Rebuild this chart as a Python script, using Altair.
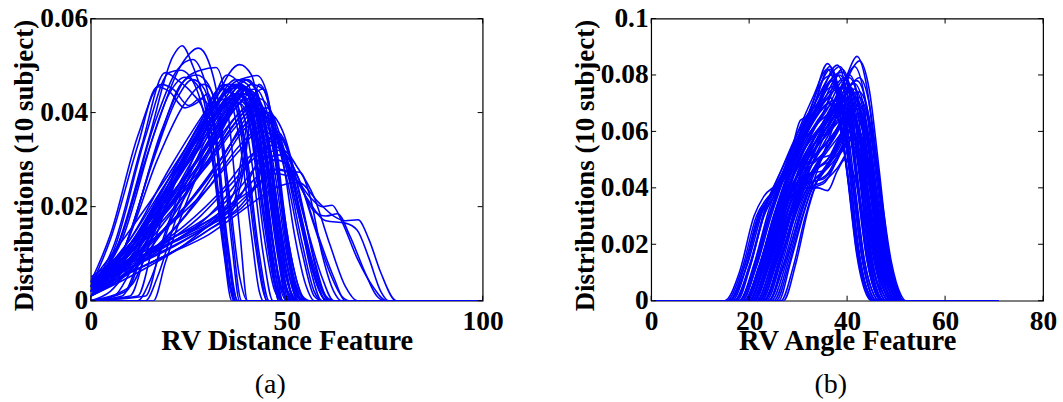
import altair as alt
import pandas as pd

# ---------------- Panel (a): RV Distance Feature -----------------
DIST_X_TICKS = [0, 50, 100]
DIST_Y_TICKS = [0, 0.02, 0.04, 0.06]

DIST_EARLY = [
    [(0,.003),(5,.013),(12,.033),(17,.0455),(20,.0445),(24,.041),(27,.042),(30,.044),(32,.035),(35,.01),(37,0),(100,0)],
    [(0,.004),(5,.014),(12,.035),(18,.046),(21,.045),(25,.0415),(28,.043),(31,.04),(34,.015),(36.5,0),(100,0)],
    [(0,.002),(6,.012),(13,.033),(19,.0485),(22,.047),(26,.044),(29,.04),(32,.025),(35,.005),(37,0),(100,0)],
    [(0,.002),(6,.011),(14,.035),(20,.0485),(23,.049),(27,.045),(31,.03),(34,.01),(36,0),(100,0)],
    [(0,.001),(7,.012),(15,.035),(21,.052),(23.3,.0542),(26,.05),(29,.042),(32,.025),(35,.006),(37,0),(100,0)],
    [(0,.002),(8,.014),(16,.037),(22,.049),(26,.0513),(29,.047),(32,.035),(35,.012),(37.5,0),(100,0)],
    [(0,.003),(8,.013),(16,.035),(23,.05),(27.5,.0537),(30,.051),(33,.04),(36,.015),(38.5,0),(100,0)],
    [(0,.001),(8,.01),(17,.033),(23,.046),(27,.048),(30,.046),(33,.036),(36,.012),(38,0),(100,0)],
    [(0,.002),(9,.012),(18,.036),(24,.047),(28,.049),(32,.0496),(35,.04),(38,.015),(40,0),(100,0)],
    [(0,.003),(7,.012),(14,.03),(20,.044),(24,.0475),(27,.046),(30,.04),(33,.02),(35.5,.003),(37,0),(100,0)],
    [(0,.001),(8,.01),(16,.03),(22,.043),(26,.047),(29,.045),(32,.033),(35,.01),(37.5,0),(100,0)],
    [(0,.002),(9,.012),(17,.03),(24,.042),(29,.046),(32,.042),(35,.025),(38,.005),(40,0),(100,0)],
]

DIST_SHORT = [
    [(0,.002),(10,.012),(20,.026),(28,.038),(33,.045),(36,.044),(39,.032),(42,.012),(44,.002),(45,0),(100,0)],
    [(0,.003),(10,.013),(20,.028),(29,.04),(34,.046),(37,.043),(40,.028),(43,.008),(45,0),(100,0)],
    [(0,.001),(8,.008),(18,.022),(27,.035),(32,.042),(35,.043),(38,.034),(41,.014),(43,.002),(44,0),(100,0)],
    [(0,0),(10,.003),(16,.014),(24,.03),(30,.04),(34,.045),(37,.043),(40,.03),(43,.01),(45.5,0),(100,0)],
    [(0,.002),(12,.012),(22,.026),(30,.037),(35,.043),(38,.042),(41,.03),(44,.01),(46.5,0),(100,0)],
]

DIST_MID = [
    [(0,.004),(10,.015),(20,.027),(30,.04),(38,.0502),(41,.048),(44,.035),(47,.015),(50,.002),(52,0),(100,0)],
    [(0,.003),(10,.012),(20,.025),(30,.038),(36,.046),(40,.0475),(42.4,.0479),(45,.044),(48,.025),(51,.007),(54,0),(100,0)],
    [(0,.002),(10,.01),(22,.028),(30,.04),(34.8,.048),(38,.046),(41,.035),(44,.015),(47,.002),(49,0),(100,0)],
    [(0,.001),(8,.006),(18,.02),(28,.036),(35,.045),(38,.046),(42,.04),(45,.025),(48,.008),(50,0),(100,0)],
    [(0,0),(5,.002),(15,.015),(25,.031),(33,.043),(37,.046),(40,.044),(43,.03),(46,.01),(48,0),(100,0)],
    [(0,.002),(10,.011),(20,.023),(30,.036),(37,.045),(40,.047),(43,.043),(46,.03),(49,.012),(52,.002),(54,0),(100,0)],
    [(0,.003),(12,.014),(22,.026),(32,.04),(38,.046),(41,.044),(44,.033),(47,.015),(50,.002),(52,0),(100,0)],
    [(0,0),(8,.001),(12,.008),(20,.025),(28,.036),(34,.044),(38,.0455),(41,.042),(44,.025),(47,.006),(49,0),(100,0)],
    [(0,0),(10,.001),(14,.01),(22,.028),(30,.039),(36,.045),(39,.0455),(42,.04),(45,.022),(48,.004),(50,0),(100,0)],
    [(0,0),(12,.001),(16,.012),(24,.03),(32,.042),(37,.047),(40,.046),(43,.036),(46,.015),(49,.002),(51,0),(100,0)],
    [(0,0),(14,.001),(18,.012),(25,.028),(32,.04),(37,.044),(40,.042),(43,.03),(46,.01),(48,0),(100,0)],
    [(0,.001),(10,.008),(20,.02),(30,.034),(36,.042),(40,.045),(44,.04),(47,.024),(50,.008),(53,0),(100,0)],
    [(0,.002),(10,.009),(20,.02),(30,.032),(36,.04),(41,.044),(44,.041),(47,.03),(50,.012),(53,.002),(55,0),(100,0)],
    [(0,.004),(10,.012),(20,.022),(30,.033),(37,.042),(41,.046),(44,.045),(47,.035),(50,.015),(53,.003),(55,0),(100,0)],
    [(0,.003),(12,.012),(25,.025),(33,.036),(38,.043),(42,.045),(45,.04),(48,.025),(51,.008),(54,0),(100,0)],
    [(0,.001),(12,.008),(24,.022),(32,.034),(38,.042),(41,.043),(44,.038),(47,.022),(50,.006),(52,0),(100,0)],
    [(0,.005),(8,.01),(18,.02),(28,.031),(35,.04),(39,.044),(42,.042),(45,.03),(48,.012),(51,.002),(53,0),(100,0)],
    [(0,0),(6,.001),(10,.006),(18,.018),(26,.03),(33,.04),(37,.043),(40,.041),(43,.03),(46,.012),(49,0),(100,0)],
    [(0,.002),(15,.015),(25,.026),(33,.035),(38,.04),(42,.042),(45,.038),(48,.026),(51,.01),(54,.001),(56,0),(100,0)],
    [(0,.003),(15,.016),(27,.03),(34,.039),(39,.045),(42,.044),(45,.035),(48,.018),(51,.004),(53,0),(100,0)],
    [(0,0),(12,0),(15,.004),(20,.016),(27,.03),(33,.04),(38,.044),(41,.041),(44,.028),(47,.01),(49,0),(100,0)],
    [(0,0),(14,0),(17,.005),(22,.018),(28,.03),(34,.04),(39,.045),(42,.043),(45,.03),(48,.01),(50,0),(100,0)],
]

DIST_EXTRA = [
    [(0,.003),(10,.012),(20,.024),(30,.035),(36,.043),(39,.0455),(42,.042),(45,.028),(48,.01),(51,.001),(53,0),(100,0)],
    [(0,.001),(10,.008),(20,.018),(30,.03),(37,.039),(41,.042),(44,.039),(47,.027),(50,.01),(53,.001),(55,0),(100,0)],
    [(0,.002),(10,.01),(20,.021),(30,.033),(36,.04),(40,.043),(43,.04),(46,.025),(49,.007),(51,0),(100,0)],
    [(0,0),(9,.002),(14,.012),(22,.027),(30,.038),(35,.043),(38,.044),(41,.038),(44,.02),(47,.004),(49,0),(100,0)],
    [(0,.004),(10,.012),(20,.02),(30,.029),(37,.037),(42,.041),(46,.039),(50,.028),(54,.012),(57,.002),(59,0),(100,0)],
    [(0,.002),(12,.01),(24,.02),(33,.03),(40,.038),(45,.04),(49,.036),(53,.024),(57,.009),(60,.001),(62,0),(100,0)],
    [(0,.003),(10,.009),(20,.016),(30,.024),(38,.032),(43,.036),(47,.035),(51,.028),(55,.016),(59,.005),(62,0),(100,0)],
    [(0,.001),(10,.006),(20,.014),(30,.024),(38,.033),(44,.037),(48,.034),(52,.024),(56,.01),(59,.002),(61,0),(100,0)],
    [(0,.002),(10,.011),(20,.024),(30,.036),(36,.044),(39,.047),(42,.045),(45,.034),(48,.014),(51,.002),(53,0),(100,0)],
    [(0,.003),(10,.013),(20,.026),(30,.037),(35,.042),(38,.042),(41,.036),(44,.02),(47,.004),(49,0),(100,0)],
    [(0,.001),(9,.008),(18,.02),(27,.033),(33,.041),(37,.044),(40,.042),(43,.032),(46,.014),(49,.002),(51,0),(100,0)],
    [(0,.004),(11,.012),(22,.022),(32,.032),(39,.04),(43,.043),(46,.04),(49,.03),(52,.014),(55,.003),(57,0),(100,0)],
    [(0,0),(16,0),(19,.008),(24,.02),(30,.032),(35,.04),(39,.044),(42,.042),(45,.03),(48,.012),(50,.001),(52,0),(100,0)],
    [(0,.002),(8,.008),(16,.02),(24,.032),(31,.042),(35,.046),(38,.045),(41,.036),(44,.018),(47,.003),(49,0),(100,0)],
    [(0,.003),(12,.009),(24,.016),(34,.024),(41,.031),(46,.033),(50,.031),(54,.024),(58,.014),(62,.005),(65,0),(100,0)],
]

DIST_WIDE = [
    [(0,.002),(10,.008),(20,.016),(30,.026),(38,.036),(43,.04),(47,.036),(51,.025),(55,.012),(58,.003),(60,0),(100,0)],
    [(0,.001),(12,.008),(24,.018),(34,.03),(40,.037),(45,.038),(49,.033),(53,.02),(57,.006),(60,0),(100,0)],
    [(0,.003),(12,.01),(24,.02),(34,.031),(41,.04),(45,.041),(48,.036),(52,.022),(56,.008),(59,.001),(61,0),(100,0)],
    [(0,.004),(15,.014),(28,.027),(37,.038),(42,.042),(46,.038),(50,.026),(54,.01),(57,.001),(59,0),(100,0)],
    [(0,.003),(10,.008),(20,.013),(30,.017),(36,.02),(39,.03),(42,.044),(44,.045),(46,.04),(49,.02),(52,.004),(54,0),(100,0)],
    [(0,.002),(10,.006),(20,.01),(30,.015),(36,.019),(39,.028),(41,.04),(43,.046),(45,.043),(48,.025),(51,.006),(53,0),(100,0)],
    [(0,.004),(12,.009),(24,.014),(32,.018),(37,.024),(40,.038),(42,.043),(44,.04),(47,.022),(50,.005),(52,0),(100,0)],
]

DIST_TAIL = [
    [(0,.004),(10,.008),(20,.012),(30,.016),(40,.021),(44,.03),(47,.0362),(50,.033),(53,.02),(56,.007),(59,0),(100,0)],
    [(0,.003),(10,.007),(20,.011),(30,.016),(38,.022),(43,.03),(46.3,.034),(49,.032),(52,.024),(55,.012),(58,.003),(60,0),(100,0)],
    [(0,.002),(10,.006),(20,.01),(30,.015),(38,.02),(43,.025),(46.3,.028),(50,.0275),(53.4,.0273),(56,.022),(59,.01),(62,.002),(64,0),(100,0)],
    [(0,.004),(10,.008),(20,.012),(30,.017),(40,.023),(47,.027),(52,.026),(56,.022),(59,.02),(61.6,.0203),(64,.017),(68,.009),(72,.003),(75.5,0),(100,0)],
    [(0,.002),(10,.006),(20,.01),(30,.014),(40,.02),(47,.024),(53,.0252),(58,.021),(62,.018),(65,.017),(68.2,.0172),(71,.013),(74,.006),(78,0),(100,0)],
    [(0,.003),(12,.008),(24,.013),(34,.018),(42,.024),(48,.028),(53,.025),(57,.019),(60,.018),(63,.0185),(66,.014),(70,.006),(73,.001),(75,0),(100,0)],
    [(0,.001),(12,.006),(24,.012),(34,.019),(42,.026),(47,.03),(50,.029),(55,.022),(60,.017),(65,.0165),(68,.015),(71,.009),(74,.002),(76,0),(100,0)],
    [(0,.004),(10,.009),(20,.013),(30,.018),(38,.024),(44,.03),(49,.031),(53,.026),(57,.016),(61,.006),(64,.001),(66,0),(100,0)],
    [(0,.002),(10,.007),(20,.012),(30,.018),(38,.026),(44,.034),(48,.035),(51,.03),(55,.016),(58,.005),(61,0),(100,0)],
    [(0,.003),(15,.01),(28,.018),(36,.025),(43,.031),(49,.032),(53,.028),(57,.022),(61,.012),(65,.003),(68,0),(100,0)],
]

# ---------------- Panel (b): RV Angle Feature -----------------
ANGLE_X_TICKS = [0, 20, 40, 60, 80]
ANGLE_Y_TICKS = [0, 0.02, 0.04, 0.06, 0.08, 0.1]

ANGLE_EARLY = [
    [(0.7,0),(15,0),(18,.01),(21,.03),(23,.037),(26,.042),(29,.052),(32,.063),(35,.07),(36.5,.072),(38.5,.063),(40.5,.04),(42.5,.014),(44.5,.002),(45.5,0),(71,0)],
    [(0.7,0),(16,0),(19,.01),(22,.029),(24,.036),(27,.044),(30,.057),(33,.07),(36,.084),(38,.074),(40,.046),(42,.017),(44,.003),(45,0),(71,0)],
    [(0.7,0),(16.5,0),(19.5,.012),(23,.033),(26,.042),(29,.05),(31,.063),(34,.07),(37,.078),(39,.069),(41,.043),(43,.016),(45,.002),(46,0),(71,0)],
    [(0.7,0),(17,0),(20,.012),(23,.03),(26,.04),(28,.048),(30.5,.064),(33,.066),(36,.072),(38,.075),(40,.066),(42,.041),(44,.015),(46,.002),(47,0),(71,0)],
    [(0.7,0),(18,0),(21,.013),(24,.032),(27,.046),(30,.06),(33,.072),(36,.082),(38,.072),(40,.045),(42,.016),(44,.002),(45,0),(71,0)],
    [(0.7,0),(18,0),(21,.012),(24,.03),(27,.045),(30,.058),(33,.068),(36.5,.083),(38.5,.073),(40.5,.046),(42.5,.017),(44.5,.002),(45.5,0),(71,0)],
    [(0.7,0),(17,0),(20,.011),(23,.03),(26,.042),(29,.054),(32,.066),(35,.078),(37,.08),(39,.07),(41,.044),(43,.016),(45,.002),(46,0),(71,0)],
    [(0.7,0),(17.5,0),(20.5,.014),(23.5,.034),(26.5,.046),(29.5,.058),(32.5,.067),(35.5,.076),(37,.078),(39,.069),(41,.043),(43,.016),(45,.002),(46,0),(71,0)],
    [(0.7,0),(18.5,0),(21.5,.012),(24.5,.03),(27.5,.045),(30.5,.056),(33.5,.065),(36.5,.072),(38.5,.063),(40.5,.04),(42.5,.014),(44.5,.002),(45.5,0),(71,0)],
    [(0.7,0),(15.5,0),(18.5,.011),(21.5,.03),(23.5,.036),(26,.04),(29,.049),(32,.06),(35,.068),(36.5,.07),(38.5,.062),(40.5,.039),(42.5,.014),(44.5,.002),(45.5,0),(71,0)],
    [(0.7,0),(16,0),(19,.012),(22,.031),(24,.036),(27,.043),(30,.055),(33,.065),(36,.075),(37.5,.076),(39.5,.067),(41.5,.042),(43.5,.015),(45.5,.002),(46.5,0),(71,0)],
    [(0.7,0),(16,0),(19,.012),(22,.03),(24.5,.038),(27,.046),(30,.058),(33,.068),(35.5,.08),(36.5,.082),(38.5,.072),(40.5,.045),(42.5,.016),(44.5,.002),(45.5,0),(71,0)],
    [(0.7,0),(17,0),(20,.012),(23,.031),(26,.044),(29,.055),(32,.064),(35,.071),(38,.076),(40,.067),(42,.042),(44,.015),(46,.002),(47,0),(71,0)],
]

ANGLE_MID = [
    [(0.7,0),(19,0),(22,.012),(25,.03),(28,.045),(31,.058),(34,.07),(38,.0835),(40,.073),(42,.046),(44,.017),(46,.003),(47,0),(71,0)],
    [(0.7,0),(19.5,0),(22.5,.013),(25.5,.032),(28.5,.047),(32,.06),(35,.07),(38.5,.08),(40.5,.07),(42.5,.044),(44.5,.016),(46.5,.002),(47.5,0),(71,0)],
    [(0.7,0),(20,0),(23,.014),(26,.033),(29,.048),(32,.058),(35,.066),(39,.082),(41,.072),(43,.045),(45,.016),(47,.002),(48,0),(71,0)],
    [(0.7,0),(20,0),(23,.012),(26,.03),(29,.044),(32,.054),(35,.062),(38,.07),(40,.072),(42,.063),(44,.04),(46,.014),(48,.002),(49,0),(71,0)],
    [(0.7,0),(21,0),(24,.014),(27,.034),(30,.05),(33,.06),(36,.068),(39,.078),(40.5,.079),(42.5,.069),(44.5,.043),(46.5,.016),(48.5,.002),(49.5,0),(71,0)],
    [(0.7,0),(21,0),(24,.012),(27,.03),(30,.045),(33,.055),(36,.06),(39,.068),(41,.07),(43,.062),(45,.039),(47,.014),(49,.002),(50,0),(71,0)],
    [(0.7,0),(22,0),(25,.014),(28,.033),(31,.047),(34,.055),(37,.062),(40,.075),(42,.078),(44,.069),(46,.043),(48,.016),(50,.002),(51,0),(71,0)],
    [(0.7,0),(22,0),(25,.012),(28,.03),(31,.045),(34,.053),(37,.058),(40,.066),(42,.068),(44,.06),(46,.037),(48,.014),(50,.002),(51,0),(71,0)],
    [(0.7,0),(19,0),(22,.01),(25,.026),(28,.042),(31,.055),(34,.064),(37,.07),(39,.072),(41,.063),(43,.04),(45,.014),(47,.002),(48,0),(71,0)],
    [(0.7,0),(20.5,0),(23.5,.012),(26.5,.03),(29.5,.046),(32.5,.058),(35.5,.068),(38,.077),(39.5,.079),(41.5,.07),(43.5,.043),(45.5,.016),(47.5,.002),(48.5,0),(71,0)],
    [(0.7,0),(23.5,0),(26.5,.014),(29.5,.034),(32.5,.05),(35.5,.062),(38.5,.072),(40.5,.076),(42.5,.067),(44.5,.042),(46.5,.015),(48.5,.002),(49.5,0),(71,0)],
    [(0.7,0),(24.5,0),(27.5,.013),(30.5,.032),(33.5,.046),(36.5,.056),(39.5,.066),(41.5,.07),(43.5,.062),(45.5,.039),(47.5,.014),(49.5,.002),(50.5,0),(71,0)],
    [(0.7,0),(19,0),(22,.011),(25,.028),(28,.043),(31,.053),(34,.06),(37,.066),(39.5,.068),(41.5,.06),(43.5,.037),(45.5,.014),(47.5,.002),(48.5,0),(71,0)],
    [(0.7,0),(21,0),(24,.013),(27,.031),(30,.046),(33,.057),(36,.064),(39,.072),(41,.074),(43,.065),(45,.041),(47,.015),(49,.002),(50,0),(71,0)],
    [(0.7,0),(23,0),(26,.012),(29,.029),(32,.043),(35,.052),(38,.06),(41,.071),(42.5,.072),(44.5,.063),(46.5,.04),(48.5,.014),(50.5,.002),(51.5,0),(71,0)],
    [(0.7,0),(19.5,0),(22.5,.012),(25.5,.03),(28.5,.046),(31.5,.058),(34.5,.07),(37.5,.08),(39,.081),(41,.071),(43,.045),(45,.016),(47,.002),(48,0),(71,0)],
]

ANGLE_EXTRA = [
    [(0.7,0),(18,0),(21,.011),(24,.029),(27,.043),(30,.055),(33,.064),(36,.07),(37.5,.071),(39.5,.062),(41.5,.039),(43.5,.014),(45.5,.002),(46.5,0),(71,0)],
    [(0.7,0),(19,0),(22,.012),(25,.029),(28,.041),(31,.05),(34,.057),(37,.064),(40,.07),(42,.062),(44,.039),(46,.014),(48,.002),(49,0),(71,0)],
    [(0.7,0),(20,0),(23,.013),(26,.031),(29,.045),(32,.056),(35,.063),(38,.072),(40,.077),(42,.068),(44,.042),(46,.015),(48,.002),(49,0),(71,0)],
    [(0.7,0),(21,0),(24,.012),(27,.028),(30,.04),(33,.046),(36,.05),(39,.058),(41,.063),(43,.055),(45,.035),(47,.013),(49,.002),(50,0),(71,0)],
    [(0.7,0),(22,0),(25,.013),(28,.032),(31,.047),(34,.058),(37,.066),(40,.074),(41.5,.075),(43.5,.066),(45.5,.041),(47.5,.015),(49.5,.002),(50.5,0),(71,0)],
    [(0.7,0),(23,0),(26,.014),(29,.033),(32,.048),(35,.059),(38,.067),(41,.077),(42.5,.079),(44.5,.07),(46.5,.044),(48.5,.016),(50.5,.002),(51.5,0),(71,0)],
    [(0.7,0),(24,0),(27,.013),(30,.031),(33,.045),(36,.053),(39,.06),(41.5,.068),(43,.068),(45,.06),(47,.037),(49,.014),(51,.002),(52,0),(71,0)],
    [(0.7,0),(18,0),(21,.012),(24,.03),(27,.044),(30,.054),(33,.061),(36,.066),(38.5,.069),(40.5,.061),(42.5,.038),(44.5,.014),(46.5,.002),(47.5,0),(71,0)],
    [(0.7,0),(19,0),(22,.012),(25,.03),(28,.046),(31,.06),(34,.072),(37,.081),(38.5,.083),(40.5,.073),(42.5,.046),(44.5,.017),(46.5,.002),(47.5,0),(71,0)],
    [(0.7,0),(20,0),(23,.012),(26,.028),(29,.04),(32,.045),(35,.046),(38,.053),(40.5,.06),(42.5,.053),(44.5,.033),(46.5,.012),(48.5,.002),(49.5,0),(71,0)],
    [(0.7,0),(21,0),(24,.013),(27,.031),(30,.045),(33,.055),(36,.062),(39,.07),(41,.073),(43,.064),(45,.04),(47,.015),(49,.002),(50,0),(71,0)],
    [(0.7,0),(22,0),(25,.012),(28,.028),(31,.041),(34,.047),(37,.05),(40,.056),(42,.058),(44,.051),(46,.032),(48,.012),(50,.002),(51,0),(71,0)],
    [(0.7,0),(23,0),(26,.012),(29,.03),(32,.045),(35,.055),(38,.064),(41,.073),(42.5,.074),(44.5,.065),(46.5,.041),(48.5,.015),(50.5,.002),(51.5,0),(71,0)],
    [(0.7,0),(25,0),(28,.014),(30.5,.03),(33,.042),(35.5,.046),(38,.054),(40.5,.064),(42,.066),(44,.058),(46,.036),(48,.013),(50,.002),(51,0),(71,0)],
    [(0.7,0),(18.5,0),(21.5,.013),(24.5,.032),(27.5,.046),(30.5,.058),(33.5,.068),(36.5,.078),(38,.08),(40,.07),(42,.044),(44,.016),(46,.002),(47,0),(71,0)],
    [(0.7,0),(20.5,0),(23.5,.012),(26.5,.029),(29.5,.043),(32.5,.052),(35.5,.058),(38.5,.064),(40.5,.068),(42.5,.06),(44.5,.037),(46.5,.014),(48.5,.002),(49.5,0),(71,0)],
    [(0.7,0),(21.5,0),(24.5,.013),(27.5,.032),(30.5,.047),(33.5,.058),(36.5,.068),(39.5,.078),(40.5,.08),(42.5,.07),(44.5,.044),(46.5,.016),(48.5,.002),(49.5,0),(71,0)],
    [(0.7,0),(22.5,0),(25.5,.013),(28.5,.03),(31.5,.044),(34.5,.053),(37.5,.06),(40.5,.068),(42,.071),(44,.062),(46,.039),(48,.014),(50,.002),(51,0),(71,0)],
]

ANGLE_LOW = [
    [(0.7,0),(20,0),(23,.012),(26,.028),(29,.038),(32,.042),(35,.043),(38,.05),(40,.058),(42,.051),(44,.032),(46,.012),(48,.002),(49,0),(71,0)],
    [(0.7,0),(21,0),(24,.014),(27,.032),(30,.041),(33,.042),(36,.045),(39,.055),(40.5,.06),(42.5,.053),(44.5,.033),(46.5,.012),(48.5,.002),(49.5,0),(71,0)],
    [(0.7,0),(22,0),(25,.013),(28,.03),(31,.04),(34,.04),(36,.039),(38,.046),(39.5,.05),(41.5,.044),(43.5,.028),(45.5,.01),(47.5,.002),(48.5,0),(71,0)],
    [(0.7,0),(23,0),(26,.012),(29,.028),(32,.04),(35,.042),(38,.047),(41,.055),(42.5,.056),(44.5,.049),(46.5,.031),(48.5,.011),(50.5,.002),(51.5,0),(71,0)],
    [(0.7,0),(20,0),(23,.012),(26,.029),(29,.042),(32,.048),(35,.052),(38,.06),(40,.064),(42,.056),(44,.035),(46,.013),(48,.002),(49,0),(71,0)],
    [(0.7,0),(22.5,0),(25.5,.013),(28.5,.03),(31.5,.042),(34.5,.05),(37.5,.058),(40,.065),(41.5,.066),(43.5,.058),(45.5,.036),(47.5,.013),(49.5,.002),(50.5,0),(71,0)],
    [(0.7,0),(20.5,0),(23.5,.013),(26.5,.03),(29.5,.043),(32.5,.05),(35.5,.055),(38.5,.062),(40.5,.066),(42.5,.058),(44.5,.036),(46.5,.013),(48.5,.002),(49.5,0),(71,0)],
    [(0.7,0),(22,0),(25,.012),(28,.029),(31,.044),(34,.05),(37,.052),(40,.06),(41.5,.062),(43.5,.055),(45.5,.034),(47.5,.012),(49.5,.002),(50.5,0),(71,0)],
]

ANGLE_LATE = [
    [(0.7,0),(22,0),(25,.012),(28,.028),(31,.043),(34,.055),(37,.066),(40,.08),(42,.0866),(44,.076),(46,.048),(48,.017),(50,.003),(51,0),(71,0)],
    [(0.7,0),(23,0),(26,.013),(29,.03),(32,.045),(35,.057),(38,.068),(41,.082),(42.5,.085),(44.5,.075),(46.5,.047),(48.5,.017),(50.5,.003),(51.5,0),(71,0)],
    [(0.7,0),(21.5,0),(24.5,.012),(27.5,.03),(30.5,.044),(33.5,.056),(36.5,.067),(39.5,.078),(41.5,.083),(43.5,.073),(45.5,.046),(47.5,.017),(49.5,.002),(50.5,0),(71,0)],
    [(0.7,0),(25.5,0),(28,.012),(30.5,.028),(33,.04),(35,.045),(38,.055),(40,.062),(41.5,.063),(43.5,.055),(45.5,.035),(47.5,.013),(49.5,.002),(50.5,0),(71,0)],
    [(0.7,0),(26.5,0),(29,.012),(31.5,.03),(33.5,.04),(35.5,.042),(38,.05),(40.5,.058),(42,.059),(44,.052),(46,.032),(48,.012),(50,.002),(51,0),(71,0)],
    [(0.7,0),(24,0),(27,.015),(30,.034),(33,.045),(36,.05),(39,.06),(41,.065),(43,.057),(45,.036),(47,.013),(49,.002),(50,0),(71,0)],
    [(0.7,0),(24,0),(27,.012),(30,.028),(33,.042),(36,.047),(39,.053),(41.5,.058),(43.5,.051),(45.5,.032),(47.5,.012),(49.5,.002),(50.5,0),(71,0)],
    [(0.7,0),(26,0),(28.5,.014),(31,.03),(33.5,.044),(36,.056),(38.5,.068),(40.5,.076),(41.5,.077),(43.5,.068),(45.5,.042),(47.5,.015),(49.5,.002),(50.5,0),(71,0)],
    [(0.7,0),(27,0),(29.5,.013),(32,.032),(34,.043),(36.5,.05),(39,.06),(41,.068),(42,.069),(44,.061),(46,.038),(48,.014),(50,.002),(51,0),(71,0)],
]

W, H = 393, 283
SERIF = "Liberation Serif"
BLUE = "#0000ff"


def to_frame(groups):
    rows = []
    k = 0
    for g in groups:
        for curve in g:
            for x, y in curve:
                rows.append({"c": k, "x": x, "y": y})
            k += 1
    return pd.DataFrame(rows)


def panel(groups, xmax, xticks, ymax, yticks, xtitle, caption):
    df = to_frame(groups)
    xs = alt.Scale(domain=[0, xmax], nice=False, zero=False)
    ys = alt.Scale(domain=[0, ymax], nice=False, zero=False)
    xaxis = alt.Axis(values=xticks, title=xtitle, format="d",
                     titleBaseline="alphabetic", titleY=49, titleFontSize=28.5)
    yaxis = alt.Axis(values=yticks, title="Distributions (10 subject)", format="~r",
                     titleBaseline="alphabetic", titleX=-58, titleY=147, titleFontSize=27)
    lines = alt.Chart(df).mark_line(
        color=BLUE, strokeWidth=1.6, interpolate="monotone", clip=True
    ).encode(
        x=alt.X("x:Q", scale=xs, axis=xaxis),
        y=alt.Y("y:Q", scale=ys, axis=yaxis),
        detail="c:N",
    )
    xt = pd.DataFrame({"x": xticks})
    yt = pd.DataFrame({"y": yticks})
    tb = alt.Chart(xt).mark_rule(color="black", strokeWidth=1).encode(
        x=alt.X("x:Q", scale=xs, axis=xaxis), y=alt.value(H), y2=alt.value(H - 5))
    tt = alt.Chart(xt).mark_rule(color="black", strokeWidth=1).encode(
        x=alt.X("x:Q", scale=xs, axis=xaxis), y=alt.value(0), y2=alt.value(5))
    tl = alt.Chart(yt).mark_rule(color="black", strokeWidth=1).encode(
        y=alt.Y("y:Q", scale=ys, axis=yaxis), x=alt.value(0), x2=alt.value(5))
    tr = alt.Chart(yt).mark_rule(color="black", strokeWidth=1).encode(
        y=alt.Y("y:Q", scale=ys, axis=yaxis), x=alt.value(W - 5), x2=alt.value(W))
    cap = alt.Chart(pd.DataFrame({"t": [caption]})).mark_text(
        font=SERIF, fontSize=28, fontWeight="normal", color="black",
        align="center", baseline="alphabetic"
    ).encode(text="t:N", x=alt.value(180), y=alt.value(376))
    return alt.layer(lines, tb, tt, tl, tr, cap).properties(width=W, height=H)


pa = panel([DIST_EARLY, DIST_SHORT, DIST_MID, DIST_EXTRA, DIST_WIDE, DIST_TAIL], 100,
           DIST_X_TICKS, 0.06, DIST_Y_TICKS, "RV Distance Feature", "(a)")
pb = panel([ANGLE_EARLY, ANGLE_MID, ANGLE_EXTRA, ANGLE_LOW, ANGLE_LATE], 80,
           ANGLE_X_TICKS, 0.1, ANGLE_Y_TICKS, "RV Angle Feature", "(b)")

chart = alt.hconcat(pa, pb, spacing=66).properties(
    padding={"left": 10, "top": 3, "right": 5, "bottom": 2}
).configure_view(stroke="black", strokeWidth=1.2).configure_axis(
    grid=False, domain=False, ticks=False,
    labelFont=SERIF, labelFontWeight="bold", labelFontSize=27.5, labelColor="black",
    titleFont=SERIF, titleFontWeight="bold", titleColor="black",
    labelOverlap=False, labelFlush=False,
).configure_axisX(labelPadding=7).configure_axisY(labelPadding=3)

chart.save("out.html", embed_options={"renderer": "svg", "actions": False})
